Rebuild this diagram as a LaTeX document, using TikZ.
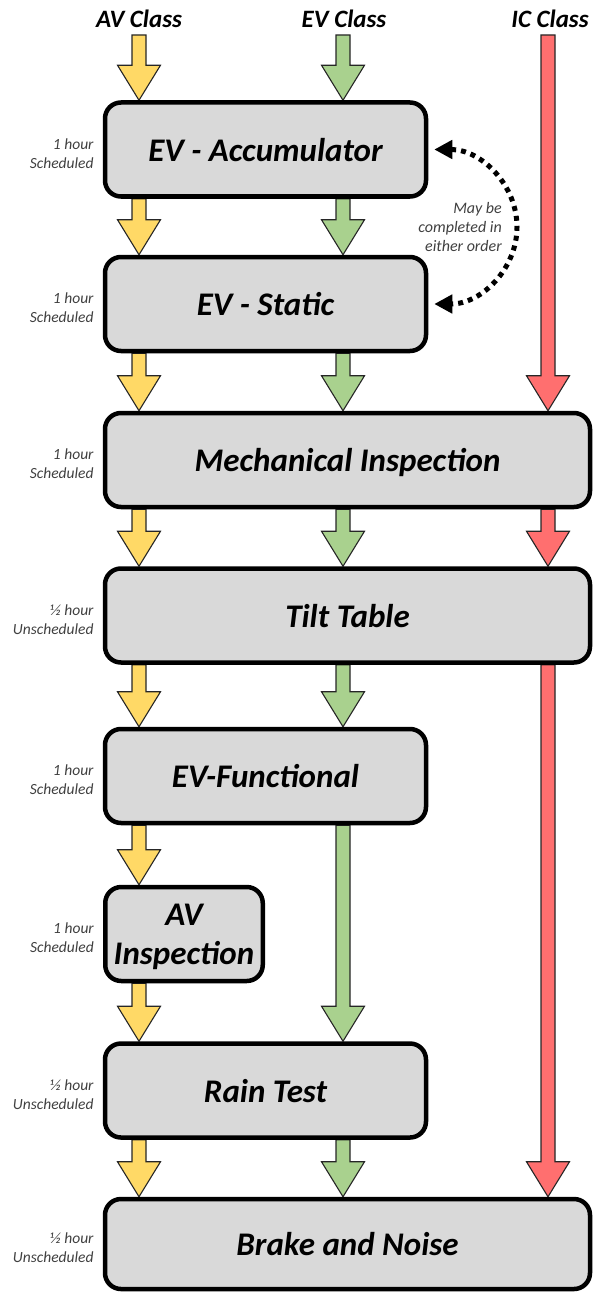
\documentclass[tikz,border=0pt]{standalone}
\usepackage{fontspec}
\setmainfont{Carlito}
\usetikzlibrary{calc,arrows.meta,backgrounds}
\definecolor{avyel}{HTML}{FFD966}
\definecolor{evgrn}{HTML}{A9D18E}
\definecolor{icred}{HTML}{FF6F6F}
\definecolor{boxgray}{HTML}{D9D9D9}
\definecolor{notegray}{HTML}{404040}
\tikzset{
  stage/.style={draw=black, line width=4.5pt, fill=boxgray, rounded corners=16pt,
    inner sep=0pt, align=center, text depth=0pt,
    font=\fontsize{33}{39}\selectfont\bfseries\itshape},
  timelbl/.style={anchor=east, align=right, text=notegray, inner sep=0pt,
    font=\fontsize{15.5}{19}\selectfont\itshape},
  classlbl/.style={anchor=base, inner sep=0pt,
    font=\fontsize{25}{29}\selectfont\bfseries\itshape},
  blockarrow/.style={draw=black!85, line width=1.1pt, line join=miter,
    to path={let \p1=(\tikztostart), \p2=(\tikztotarget) in
      (\x1-7pt,\y1) -- (\x1-7pt,\y2+35pt) -- (\x1-21.5pt,\y2+35pt) -- (\x1,\y2)
      -- (\x1+21.5pt,\y2+35pt) -- (\x1+7pt,\y2+35pt) -- (\x1+7pt,\y1) -- cycle}},
  avarrow/.style={blockarrow, fill=avyel},
  evarrow/.style={blockarrow, fill=evgrn},
  icarrow/.style={blockarrow, fill=icred},
  dotloop/.style={line width=5pt, dash pattern=on 5pt off 5pt,
    arrows={Triangle[length=18pt,width=18pt]-Triangle[length=18pt,width=18pt]}},
  notetext/.style={anchor=east, align=right, text=notegray, inner sep=0pt,
    font=\fontsize{16}{19}\selectfont\itshape},
}
\begin{document}
\begin{tikzpicture}[x=1pt,y=-1pt]
\useasboundingbox (0,0) rectangle (600,1292);

% class labels and start points
\node[classlbl] (avlabel) at (139,28) {AV Class};
\node[classlbl] (evlabel) at (344,28) {EV Class};
\node[classlbl] (iclabel) at (550,28) {IC Class};
\coordinate (avtop) at (139,35);
\coordinate (evtop) at (343,35);
\coordinate (ictop) at (548,35);

% stages
\node[stage, minimum width=321pt, minimum height=94pt] (b1) at (265.5,149.5) {EV - Accumulator};
\node[stage, minimum width=321pt, minimum height=94pt] (b2) at (265.5,304) {EV - Static};
\node[stage, minimum width=485pt, minimum height=94pt] (b3) at (347.5,460) {Mechanical Inspection};
\node[stage, minimum width=485pt, minimum height=94pt] (b4) at (347.5,615.5) {Tilt Table};
\node[stage, minimum width=321pt, minimum height=94pt] (b5) at (265.5,776) {EV-Functional};
\node[stage, minimum width=157.5pt, minimum height=94pt] (b6) at (184,934) {AV\\Inspection};
\node[stage, minimum width=321pt, minimum height=94pt] (b7) at (265.5,1090.5) {Rain Test};
\node[stage, minimum width=485pt, minimum height=90pt] (b8) at (347.5,1244) {Brake and Noise};

% time labels
\node[timelbl] (t1) at ([xshift=-9pt,yshift=-4pt]b1.west) {1 hour\\Scheduled};
\node[timelbl] (t2) at ([xshift=-9pt,yshift=-4pt]b2.west) {1 hour\\Scheduled};
\node[timelbl] (t3) at ([xshift=-9pt,yshift=-4pt]b3.west) {1 hour\\Scheduled};
\node[timelbl] (t4) at ([xshift=-9pt,yshift=-4pt]b4.west) {½ hour\\Unscheduled};
\node[timelbl] (t5) at ([xshift=-9pt,yshift=-4pt]b5.west) {1 hour\\Scheduled};
\node[timelbl] (t6) at ([xshift=-9pt,yshift=-4pt]b6.west) {1 hour\\Scheduled};
\node[timelbl] (t7) at ([xshift=-9pt,yshift=-4pt]b7.west) {½ hour\\Unscheduled};
\node[timelbl] (t8) at ([xshift=-9pt,yshift=-4pt]b8.west) {½ hour\\Unscheduled};

% block arrows behind the stages
\begin{pgfonlayer}{background}
\draw[avarrow] (avtop) to (b1.north -| avtop);
\draw[avarrow] (b1.south -| avtop) to (b2.north -| avtop);
\draw[avarrow] (b2.south -| avtop) to (b3.north -| avtop);
\draw[avarrow] (b3.south -| avtop) to (b4.north -| avtop);
\draw[avarrow] (b4.south -| avtop) to (b5.north -| avtop);
\draw[avarrow] (b5.south -| avtop) to (b6.north -| avtop);
\draw[avarrow] (b6.south -| avtop) to (b7.north -| avtop);
\draw[avarrow] (b7.south -| avtop) to (b8.north -| avtop);

\draw[evarrow] (evtop) to (b1.north -| evtop);
\draw[evarrow] (b1.south -| evtop) to (b2.north -| evtop);
\draw[evarrow] (b2.south -| evtop) to (b3.north -| evtop);
\draw[evarrow] (b3.south -| evtop) to (b4.north -| evtop);
\draw[evarrow] (b4.south -| evtop) to (b5.north -| evtop);
\draw[evarrow] (b5.south -| evtop) to (b7.north -| evtop);
\draw[evarrow] (b7.south -| evtop) to (b8.north -| evtop);

\draw[icarrow] (ictop) to (b3.north -| ictop);
\draw[icarrow] (b3.south -| ictop) to (b4.north -| ictop);
\draw[icarrow] (b4.south -| ictop) to (b8.north -| ictop);
\end{pgfonlayer}

% either-order loop
\coordinate (loopmid) at (517,227);
\draw[dotloop] ([xshift=6pt]b1.east) .. controls +(47,0) and +(0,-42) .. (loopmid)
  .. controls +(0,42) and +(47,0) .. ([xshift=6pt]b2.east);
\node[notetext] (note) at (502,227) {May be\\completed in\\either order};
\end{tikzpicture}
\end{document}
